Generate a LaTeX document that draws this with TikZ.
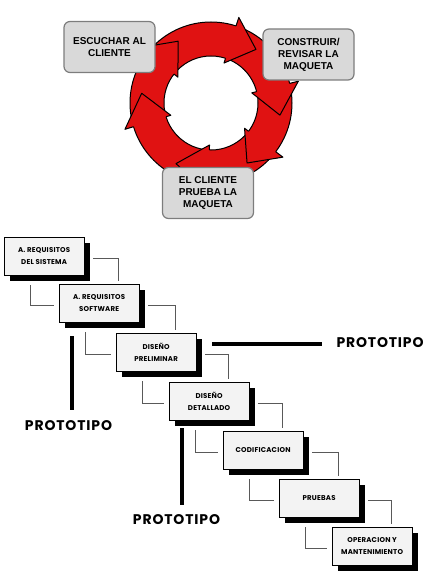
\documentclass[tikz,border=0pt]{standalone}
\usepackage{fontspec}
\setmainfont{Liberation Sans}
\newfontfamily\protofont[LetterSpace=6]{Poppins}
\newfontfamily\etapafont[LetterSpace=3]{Poppins}
\usetikzlibrary{calc,shadows}
\definecolor{rojoanillo}{RGB}{224,18,18}
\definecolor{grispaso}{RGB}{217,217,217}
\definecolor{bordepaso}{RGB}{125,125,125}
\definecolor{grisetapa}{RGB}{243,243,243}
\tikzset{
  anillo/.style={fill=rojoanillo, draw=black, line width=1pt},
  paso/.style={draw=bordepaso, line width=1.2pt, rounded corners=6pt, fill=grispaso,
    minimum width=91pt, minimum height=51pt, align=center, inner sep=0pt,
    font=\bfseries\fontsize{10}{12}\selectfont},
  etapa/.style={draw=black, line width=0.7pt, fill=grisetapa, anchor=north west,
    minimum width=79.5pt, minimum height=37.5pt, align=center, inner sep=0pt,
    font=\etapafont\bfseries\fontsize{7}{12}\selectfont,
    drop shadow={shadow xshift=6pt, shadow yshift=-6pt, fill=black, opacity=1}},
  enlace/.style={draw=black!65, line width=1pt},
  barra/.style={line width=4pt},
  proto/.style={font=\protofont\bfseries\fontsize{14}{16}\selectfont}
}
\begin{document}
\begin{tikzpicture}[x=1pt,y=-1pt]
		\useasboundingbox (0,0) rectangle (437,580);
		
		%%%%% CICLO %%%%%
		\begin{scope}[shift={(211,103)},yscale=-1]
			\draw[anillo, even odd rule] (0,0) circle (81) (0,0) circle (47);
			\foreach \b/\t in {72/50, 14/-10, -37/-59, -92/-120, -163/-188, 142/118}{
				\fill[rojoanillo] (\b:90) -- (\t:70) -- (\b:42) -- cycle;
				\draw[line width=1pt, line join=round] (\b:81) -- (\b:90) -- (\t:70) -- (\b:42) -- (\b:47);
			}
		\end{scope}
		
		\node[paso] (escuchar) at (109.5,47) {ESCUCHAR AL\\CLIENTE};
		\node[paso] (construir) at (308.5,54.5) {CONSTRUIR/\\REVISAR LA\\MAQUETA};
		\node[paso] (prueba) at (208,193) {EL CLIENTE\\PRUEBA LA\\MAQUETA};
		
		%%%%% CASCADA %%%%%
		\node[etapa] (sistema) at (4,237) {A. REQUISITOS\\DEL SISTEMA};
		\node[etapa] (software) at (59,284) {A. REQUISITOS\\SOFTWARE};
		\node[etapa] (preliminar) at (116,333) {DISEÑO\\PRELIMINAR};
		\node[etapa] (detallado) at (169,382) {DISEÑO\\DETALLADO};
		\node[etapa] (codificacion) at (223,431) {CODIFICACION};
		\node[etapa] (pruebas) at (279,479) {PRUEBAS};
		\node[etapa] (operacion) at (332,527) {OPERACION Y\\MANTENIMIENTO};
		
		\foreach \a/\b in {sistema/software, software/preliminar, preliminar/detallado,
			detallado/codificacion, codificacion/pruebas, pruebas/operacion}{
			\draw[enlace] ($(\a.east)+(9,2)$) -| ($(\b.north west)+(59,-3)$);
			\draw[enlace] ($(\a.south west)+(26,10)$) |- ($(\b.west)+(-5,2)$);
		}
		
		%%%%% PROTOTIPOS %%%%%
		\node[proto] (proto1) at (68.5,426) {PROTOTIPO};
		\node[proto] (proto2) at (176.5,520) {PROTOTIPO};
		\node[proto] (proto3) at (380,343) {PROTOTIPO};
		
		\draw[barra] (72,336) -- (72,410);
		\draw[barra] (182,428) -- (182,505);
		\draw[barra] (212,344) -- (322,344);
		
	\end{tikzpicture}
\end{document}
